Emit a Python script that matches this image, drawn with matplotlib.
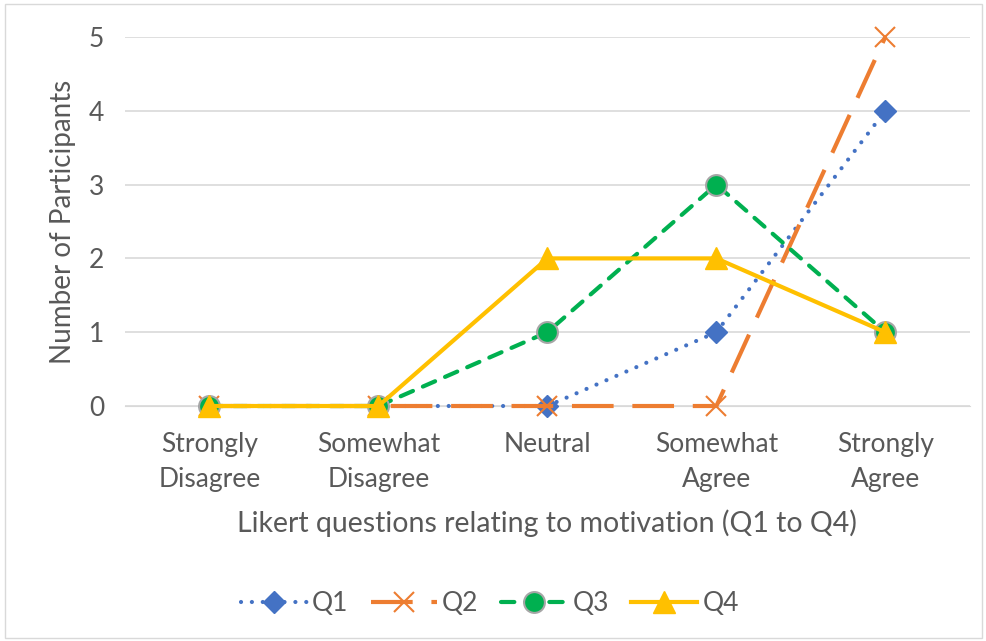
import numpy as np
import matplotlib.pyplot as plt
from matplotlib.patches import Rectangle

categories = ["Strongly\nDisagree", "Somewhat\nDisagree", "Neutral", "Somewhat\nAgree", "Strongly\nAgree"]
q1 = [0, 0, 0, 1, 4]
q2 = [0, 0, 0, 0, 5]
q3 = [0, 0, 1, 3, 1]
q4 = [0, 0, 2, 2, 1]

plt.rcParams['font.family'] = ['Lato', 'DejaVu Sans']
grey = '#595959'
fs = 19

fig = plt.figure(figsize=(9.87, 6.41), dpi=100)
fig.patches.append(Rectangle((0.005, 0.005), 0.99, 0.988, transform=fig.transFigure,
                             fill=False, edgecolor='#d9d9d9', linewidth=1))
ax = fig.add_axes([0.1266, 0.3666, 0.856, 0.5757])

x = np.arange(len(categories))
lw = 3
ax.plot(x, q1, color='#4472C4', linestyle=(0, (0.01, 2.6)), dash_capstyle='round', lw=lw,
        marker='D', markersize=11, label='Q1', clip_on=False, zorder=3)
ax.plot(x, q2, color='#ED7D31', linestyle=(0, (10, 4.5)), lw=lw,
        marker='x', markersize=15, markeredgewidth=1.5, label='Q2', clip_on=False, zorder=4)
ax.plot(x, q3, color='#00B050', linestyle=(0, (3.2, 2.6)), lw=lw, dash_capstyle='round',
        marker='o', markersize=15, markeredgecolor='#a6a6a6', markeredgewidth=1.5,
        label='Q3', clip_on=False, zorder=5)
ax.plot(x, q4, color='#FFC000', linestyle='-', lw=lw,
        marker='^', markersize=16, label='Q4', clip_on=False, zorder=6)

ax.set_xlim(-0.5, 4.5)
ax.set_ylim(0, 5)
ax.set_yticks(range(6))
ax.set_xticks(x)
ax.set_xticklabels(categories, linespacing=1.5)
ax.grid(axis='y', color='#d9d9d9', linewidth=1.2)
ax.set_axisbelow(True)
for s in ['top', 'right', 'left']:
    ax.spines[s].set_visible(False)
ax.spines['bottom'].set_color('#d9d9d9')
ax.tick_params(length=0, labelsize=fs, colors=grey, pad=19)
ax.tick_params(axis='y', pad=15)

ax.set_xlabel('Likert questions relating to motivation (Q1 to Q4)', fontsize=20.5, color=grey, labelpad=12)
ax.set_ylabel('Number of Participants', fontsize=20, color=grey, labelpad=9)

ax.legend(loc='center', bbox_to_anchor=(0.432, -0.535), ncol=4, frameon=False,
          fontsize=fs, labelcolor=grey, handlelength=2.5, columnspacing=0.85, handletextpad=0.2)

fig.savefig('out.png', dpi=100)
